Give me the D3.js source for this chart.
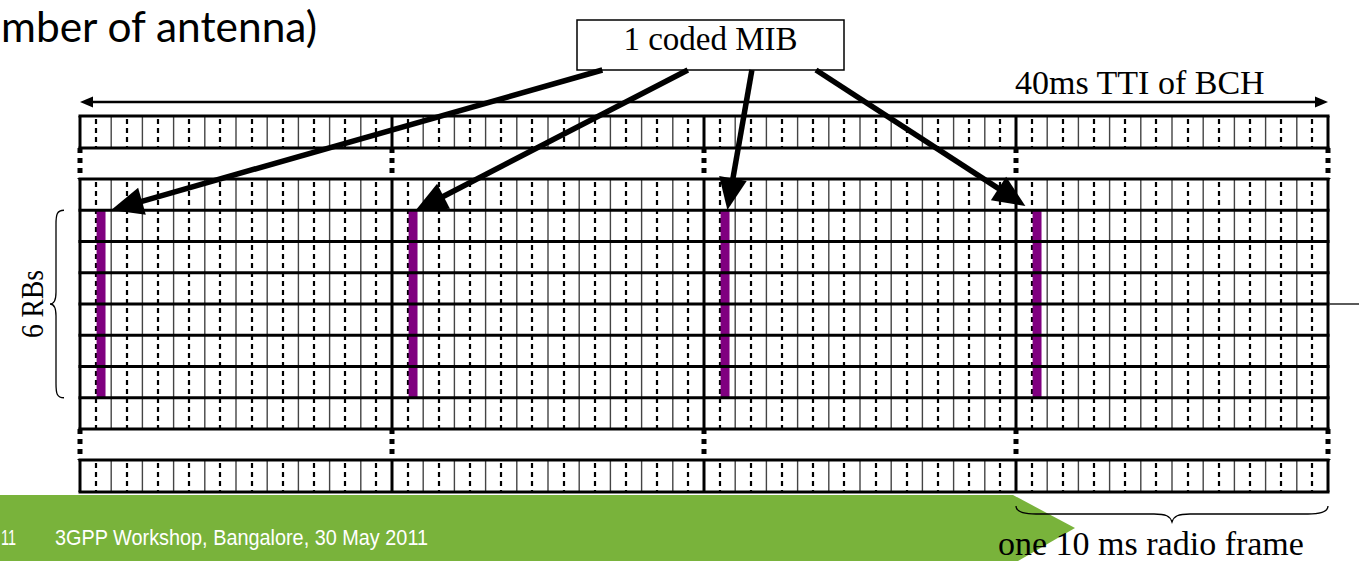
<!DOCTYPE html>
<html><head><meta charset="utf-8">
<script src="https://cdn.jsdelivr.net/npm/d3@7"></script>
<style>html,body{margin:0;padding:0;background:#fff;overflow:hidden}</style>
</head><body>
<svg id="c" width="1359" height="561"></svg>
<script>
// ---- data ----
const frames = ["Radio frame 1", "Radio frame 2", "Radio frame 3", "Radio frame 4"];
const subframesPerFrame = [0, 1, 2, 3, 4, 5, 6, 7, 8, 9];
const mainRows = ["other", "RB 1", "RB 2", "RB 3", "RB 4", "RB 5", "RB 6", "other"];
const pbchRows = ["RB 1", "RB 2", "RB 3", "RB 4", "RB 5", "RB 6"];
const mibSubframes = [0, 10, 20, 30];          // subframe 0 of each radio frame
const mibSymbolsOfSlot = 4 / 7;                 // first 4 OFDM symbols of slot 1
const arrowTipPos = [1.0, 10.74, 20.75, 30.3];  // where each arrow points (subframe units)
const arrowStartFrac = [0.095, 0.415, 0.655, 0.895];
const titleText = "mber of antenna)";
const boxText = "1 coded MIB";
const ttiText = "40ms TTI of BCH";
const rbText = "6 RBs";
const frameText = "one 10 ms radio frame";
const footerText = "3GPP Workshop, Bangalore, 30 May 2011";
const footerNum = "11";

// ---- layout ----
const svg = d3.select("#c");
const nSub = frames.length * subframesPerFrame.length;
const x = d3.scaleLinear().domain([0, nSub]).range([80, 1328]);
const sw = x(1) - x(0);
const yMain = d3.scaleLinear().domain([0, mainRows.length]).range([179, 429]);
const strips = [
  {y0: 116, y1: 148, rows: 1},
  {y0: 179, y1: 429, rows: mainRows.length},
  {y0: 460, y1: 492, rows: 1}
];
const serif = "'Liberation Serif','Times New Roman',serif";

// footer green band
svg.append("polygon")
  .attr("points", [[0,495],[1013,495],[1075,528],[1018,561],[0,561]].map(p=>p.join(",")).join(" "))
  .attr("fill", "#79b33b");
svg.append("text").attr("x", 1).attr("y", 545)
  .attr("font-family","'Liberation Sans',Arial,sans-serif").attr("font-size",22).attr("fill","#fff")
  .attr("textLength", 15).attr("lengthAdjust","spacingAndGlyphs")
  .text(footerNum);
svg.append("text").attr("x", 55).attr("y", 545)
  .attr("font-family","'Liberation Sans',Arial,sans-serif").attr("font-size",21.5).attr("fill","#fff")
  .attr("textLength", 373).attr("lengthAdjust","spacingAndGlyphs")
  .text(footerText);

// title fragment
svg.append("text").attr("x", 1).attr("y", 41.5)
  .attr("font-family","Lato,'Open Sans',sans-serif").attr("font-size",42).attr("fill","#000")
  .attr("textLength", 316).attr("lengthAdjust","spacingAndGlyphs")
  .text(titleText);

// grid strips
const subIdx = d3.range(nSub);
strips.forEach((s, si) => {
  const g = svg.append("g");
  g.append("rect").attr("x", x(0)).attr("y", s.y0).attr("width", x(nSub)-x(0)).attr("height", s.y1-s.y0).attr("fill","#fff");
  // subframe boundaries (thin)
  g.selectAll("line.sf").data(subIdx.slice(1)).join("line")
    .attr("x1", d=>x(d)).attr("x2", d=>x(d)).attr("y1", s.y0).attr("y2", s.y1)
    .attr("stroke","#444").attr("stroke-width",1.4);
  // slot boundaries (dashed)
  g.selectAll("line.sl").data(subIdx).join("line")
    .attr("x1", d=>Math.round(x(d+0.5))).attr("x2", d=>Math.round(x(d+0.5))).attr("y1", s.y0+3).attr("y2", s.y1)
    .attr("stroke","#000").attr("stroke-width",2.2).attr("stroke-dasharray","5,4");
  // PBCH bars in main strip
  if (si === 1) {
    const r0 = mainRows.indexOf(pbchRows[0]);
    const r1 = mainRows.indexOf(pbchRows[pbchRows.length-1]) + 1;
    g.selectAll("rect.mib").data(mibSubframes).join("rect")
      .attr("x", d=>x(d+0.5)+1).attr("y", yMain(r0))
      .attr("width", sw*0.5*mibSymbolsOfSlot).attr("height", yMain(r1)-yMain(r0))
      .attr("fill","#800080");
  }
  // row boundaries (thick)
  const rowEdges = d3.range(s.rows+1).map(i => s.y0 + (s.y1-s.y0)*i/s.rows);
  g.selectAll("line.row").data(rowEdges).join("line")
    .attr("x1", x(0)-1.5).attr("x2", x(nSub)+1.5).attr("y1", d=>d).attr("y2", d=>d)
    .attr("stroke","#000").attr("stroke-width",3);
  // frame boundaries (thick)
  g.selectAll("line.fr").data(d3.range(frames.length+1)).join("line")
    .attr("x1", d=>x(d*subframesPerFrame.length)).attr("x2", d=>x(d*subframesPerFrame.length))
    .attr("y1", s.y0).attr("y2", s.y1)
    .attr("stroke","#000").attr("stroke-width",3);
});

// dotted connectors between strips at frame boundaries
[[148,179],[429,460]].forEach(([a,b]) => {
  svg.append("g").selectAll("line").data(d3.range(frames.length+1)).join("line")
    .attr("x1", d=>x(d*subframesPerFrame.length)).attr("x2", d=>x(d*subframesPerFrame.length))
    .attr("y1", a).attr("y2", b)
    .attr("stroke","#000").attr("stroke-width",5).attr("stroke-dasharray","5,5");
});

// 40ms double arrow
const ay = 102;
svg.append("line").attr("x1", x(0)+8).attr("x2", x(nSub)-8).attr("y1", ay).attr("y2", ay)
  .attr("stroke","#000").attr("stroke-width",2.5);
svg.append("polygon").attr("points", `${x(0)},${ay} ${x(0)+13},${ay-5.5} ${x(0)+13},${ay+5.5}`).attr("fill","#000");
svg.append("polygon").attr("points", `${x(nSub)},${ay} ${x(nSub)-13},${ay-5.5} ${x(nSub)-13},${ay+5.5}`).attr("fill","#000");
svg.append("text").attr("x", 1015).attr("y", 94).attr("font-family", serif).attr("font-size", 34).text(ttiText);

// MIB box
const box = {x0: 577, y0: 20, x1: 844, y1: 70};
svg.append("rect").attr("x", box.x0).attr("y", box.y0).attr("width", box.x1-box.x0).attr("height", box.y1-box.y0)
  .attr("fill","#fff").attr("stroke","#000").attr("stroke-width",1.5);
svg.append("text").attr("x", (box.x0+box.x1)/2).attr("y", 50).attr("text-anchor","middle")
  .attr("font-family", serif).attr("font-size", 33).text(boxText);

// arrows from box to each PBCH occurrence
const tipY = [210, 211, 210, 206];
arrowTipPos.forEach((p, i) => {
  const sx = box.x0 + (box.x1-box.x0)*arrowStartFrac[i], sy = box.y1;
  const tx = x(p), ty = tipY[i];
  const dx = tx-sx, dy = ty-sy, L = Math.hypot(dx, dy), ux = dx/L, uy = dy/L;
  const hl = 32, hw = 14;
  const bx = tx-ux*hl, by = ty-uy*hl;
  svg.append("line").attr("x1", sx).attr("y1", sy).attr("x2", bx+ux*2).attr("y2", by+uy*2)
    .attr("stroke","#000").attr("stroke-width",5.5);
  svg.append("polygon").attr("points",
    `${tx},${ty} ${bx-uy*hw},${by+ux*hw} ${bx+uy*hw},${by-ux*hw}`).attr("fill","#000");
});

// left brace + label
const by0 = yMain(1), by1 = yMain(7), bm = (by0+by1)/2;
svg.append("path").attr("fill","none").attr("stroke","#000").attr("stroke-width",1.3)
  .attr("d", `M64,${by0} C57,${by0} 56,${by0+4} 56,${by0+14} L56,${bm-12} C56,${bm-4} 54,${bm} 50,${bm}
              C54,${bm} 56,${bm+4} 56,${bm+12} L56,${by1-14} C56,${by1-4} 57,${by1} 64,${by1}`);
svg.append("text").attr("transform", `translate(43,${bm}) rotate(-90)`).attr("text-anchor","middle")
  .attr("font-family", serif).attr("font-size", 32).attr("textLength", 68).attr("lengthAdjust","spacingAndGlyphs")
  .text(rbText);

// right thin line
svg.append("line").attr("x1", 1330).attr("x2", 1359).attr("y1", bm).attr("y2", bm).attr("stroke","#000").attr("stroke-width",1.3);

// bottom brace + label
const fx0 = x(30), fx1 = x(40), fm = (fx0+fx1)/2;
svg.append("path").attr("fill","none").attr("stroke","#000").attr("stroke-width",1.3)
  .attr("d", `M${fx0},506 C${fx0},511 ${fx0+6},514 ${fx0+20},514 L${fm-18},514 C${fm-6},514 ${fm-2},516 ${fm},522
              C${fm+2},516 ${fm+6},514 ${fm+18},514 L${fx1-20},514 C${fx1-6},514 ${fx1},511 ${fx1},506`);
svg.append("text").attr("x", 998).attr("y", 555).attr("font-family", serif).attr("font-size", 34).text(frameText);
</script>
</body></html>
